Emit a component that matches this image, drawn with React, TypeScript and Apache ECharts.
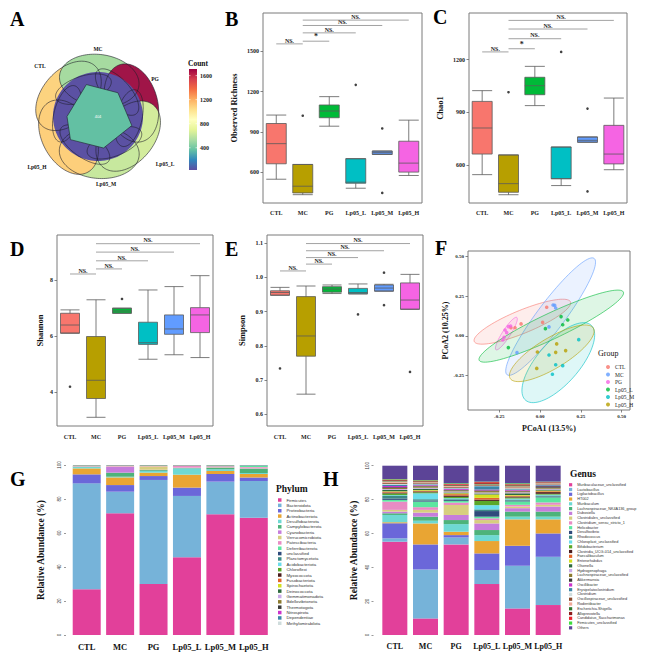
import React, { useEffect, useRef } from "react";
import * as echarts from "echarts";

const SERIF = "Liberation Serif";
const SANS = "Liberation Sans";

// ---------- shared ----------
const groups = ["CTL", "MC", "PG", "Lp05_L", "Lp05_M", "Lp05_H"];
const boxColors = ["#F8766D", "#B79F00", "#00BA38", "#00BFC4", "#619CFF", "#F564E3"];
const sigPairs = [[0, 1], [1, 2], [1, 3], [1, 4], [1, 5]];
const sigLabelsBC = ["NS.", "*", "NS.", "NS.", "NS."];
const sigLabelsDE = ["NS.", "NS.", "NS.", "NS.", "NS."];

// ---------- B: Observed richness [min, Q1, median, Q3, max] ----------
const richnessStats = [
  [547, 662, 812, 962, 1025],
  [432, 445, 495, 657, 657],
  [942, 1005, 1055, 1100, 1162],
  [480, 517, 525, 700, 700],
  [732, 732, 745, 757, 757],
  [575, 600, 667, 830, 987],
];
const richnessOutliers = [[1, 1020], [3, 1250], [4, 925], [4, 445]];
const richnessSigY = [1555, 1575, 1637, 1692, 1732];
const richnessTicks = [600, 900, 1200, 1500];

// ---------- C: Chao1 ----------
const chaoStats = [
  [547, 664, 812, 963, 1024],
  [433, 447, 496, 659, 659],
  [939, 1001, 1052, 1100, 1162],
  [485, 524, 524, 704, 704],
  [731, 731, 742, 761, 761],
  [575, 608, 664, 827, 982],
];
const chaoOutliers = [[1, 1015], [3, 1244], [4, 922], [4, 452]];
const chaoSigY = [1244, 1262, 1319, 1374, 1423];
const chaoTicks = [600, 900, 1200];

// ---------- D: Shannon ----------
const shannonStats = [
  [6.1, 6.1, 6.39, 6.81, 6.93],
  [3.1, 3.77, 4.42, 5.98, 7.29],
  [6.81, 6.81, 6.89, 6.99, 6.99],
  [5.17, 5.7, 5.76, 6.49, 7.64],
  [5.33, 6.06, 6.25, 6.75, 7.76],
  [5.23, 6.12, 6.75, 7.01, 8.15],
];
const shannonOutliers = [[0, 4.19], [2, 7.32]];
const shannonSigY = [8.21, 8.39, 8.68, 8.99, 9.29];
const shannonTicks = [4, 6, 8];

// ---------- E: Simpson ----------
const simpsonStats = [
  [0.948, 0.948, 0.956, 0.961, 0.971],
  [0.659, 0.77, 0.829, 0.944, 0.975],
  [0.953, 0.957, 0.966, 0.973, 0.978],
  [0.952, 0.952, 0.956, 0.968, 0.981],
  [0.96, 0.96, 0.969, 0.978, 0.98],
  [0.907, 0.907, 0.934, 0.984, 1.009],
];
const simpsonOutliers = [[0, 0.734], [3, 0.892], [4, 1.014], [4, 0.919], [5, 0.724]];
const simpsonSigY = [1.019, 1.039, 1.058, 1.078, 1.099];
const simpsonTicks = [0.6, 0.7, 0.8, 0.9, 1.0, 1.1];

// ---------- F: PCoA ----------
const pcoaGroups = ["CTL", "MC", "PG", "Lp05_L", "Lp05_M", "Lp05_H"];
const pcoaColors = ["#F8766D", "#619CFF", "#F564E3", "#00BA38", "#00BFC4", "#B79F00"];
const pcoaCTL = [[0.041, 0.181], [-0.116, 0.076], [-0.153, 0.052], [-0.178, 0.052], [0.016, 0.086]];
const pcoaMC = [[0.09, 0.193], [0.096, 0.176], [0.08, 0.195], [0.055, 0.057], [-0.141, -0.105]];
const pcoaPG = [[-0.214, 0.038], [-0.204, 0.021], [-0.194, 0.059], [-0.18, 0.063], [-0.22, -0.008], [-0.228, -0.025]];
const pcoaL = [[0.129, 0.122], [0.17, 0.101], [0.139, 0.071], [0.033, 0.046], [-0.194, -0.073]];
const pcoaM = [[0.237, -0.023], [0.055, -0.12], [0.096, -0.181], [0.139, -0.187], [0.076, -0.241]];
const pcoaH = [[0.102, -0.05], [0.157, -0.092], [0.096, -0.103], [-0.016, -0.101], [-0.02, -0.204]];
// confidence ellipses: [cx, cy, semi-major, semi-minor, angle deg]
const pcoaEllipses = [
  [-0.108, 0.09, 0.32, 0.072, 23],
  [0.065, 0.122, 0.453, 0.085, 54],
  [-0.206, 0.015, 0.12, 0.025, 58],
  [0.069, 0.062, 0.491, 0.08, 26],
  [0.112, -0.168, 0.31, 0.13, 50],
  [0.072, -0.109, 0.3, 0.095, 32],
];
const pcoaTicks = [-0.25, 0, 0.25, 0.5];

// ---------- G: Phylum ----------
const phylumNames = [
  "Firmicutes", "Bacteroidota", "Proteobacteria", "Actinobacteriota", "Desulfobacterota",
  "Campylobacterota", "Cyanobacteria", "Verrucomicrobiota", "Patescibacteria", "Deferribacterota",
  "unclassified", "Planctomycetota", "Acidobacteriota", "Chloroflexi", "Myxococcota",
  "Fusobacteriota", "Spirochaetota", "Deinococcota", "Gemmatimonadota", "Bdellovibrionota",
  "Thermotogota", "Nitrospirota", "Dependentiae", "Methylomirabilota",
];
const palette = [
  "#E2409A", "#76B3D9", "#6B67D9", "#E9A533", "#6ED9D3", "#4DB37A", "#C67DDC", "#D7CE7F",
  "#E88BC4", "#5CE6A0", "#2F4B7C", "#3C8A86", "#6BDDEB", "#5BA829", "#4B1C1C", "#E4652A",
  "#D4E021", "#2F6B3F", "#C9AAE8", "#8C7B2E", "#3A3A3A", "#CC33CC", "#3C86A8", "#CFDCDC",
  "#8B4A2B", "#F0A898", "#2E7A2E", "#8E1B1B", "#E8262E", "#3DDC3D", "#5C4497",
];
const phylumValues = [
  [26.9, 71.6, 30.0, 45.7, 71.0, 69.0],
  [62.3, 12.7, 61.2, 36.1, 19.2, 21.6],
  [5.3, 3.9, 2.3, 4.9, 4.5, 2.1],
  [3.5, 4.5, 2.0, 7.6, 1.8, 2.0],
  [0.8, 0.4, 1.0, 3.7, 1.0, 0.6],
  [0.2, 2.4, 0.5, 0.2, 0.9, 2.5],
  [0.1, 3.5, 0.2, 0.2, 0.2, 0.3],
  [0.1, 0.2, 2.0, 0.1, 0.2, 0.3],
  [0.2, 0.3, 0.2, 1.1, 0.5, 0.4],
  [0.1, 0.1, 0.2, 0.1, 0.3, 0.6],
  [0.1, 0.1, 0.1, 0.1, 0.1, 0.15],
  [0.05, 0.05, 0.05, 0.03, 0.05, 0.05],
  [0.05, 0.04, 0.04, 0.03, 0.05, 0.05],
  [0.04, 0.03, 0.04, 0.02, 0.04, 0.04],
  [0.03, 0.03, 0.03, 0.02, 0.03, 0.03],
  [0.03, 0.02, 0.02, 0.02, 0.02, 0.03],
  [0.03, 0.02, 0.02, 0.02, 0.02, 0.02],
  [0.02, 0.02, 0.02, 0.02, 0.02, 0.02],
  [0.02, 0.02, 0.02, 0.02, 0.02, 0.02],
  [0.02, 0.02, 0.02, 0.02, 0.02, 0.02],
  [0.02, 0.02, 0.02, 0.02, 0.02, 0.02],
  [0.02, 0.02, 0.02, 0.02, 0.02, 0.02],
  [0.02, 0.02, 0.02, 0.02, 0.02, 0.02],
  [0.03, 0.03, 0.03, 0.03, 0.03, 0.03],
];

// ---------- H: Genus ----------
const genusNames = [
  "Muribaculaceae_unclassified", "Lactobacillus", "Ligilactobacillus", "HT002", "Muribaculum",
  "Lachnospiraceae_NK4A136_group", "Dubosiella", "Clostridiales_unclassified", "Clostridium_sensu_stricto_1",
  "Helicobacter", "Desulfovibrio", "Rhodococcus", "Chloroplast_unclassified", "Bifidobacterium",
  "Clostridia_UCG-014_unclassified", "Faecalibaculum", "Enterorhabdus", "Olsenella", "Hydrogenophaga",
  "Lachnospiraceae_unclassified", "Akkermansia", "Oscillibacter", "Erysipelatoclostridium", "Clostridium",
  "Oscillospiraceae_unclassified", "Rodentibacter", "Escherichia-Shigella", "Alloprevotella",
  "Candidatus_Saccharimonas", "Firmicutes_unclassified", "Others",
];
const genusValues = [
  [55.1, 9.8, 53.5, 30.1, 15.7, 17.7],
  [2.0, 28.9, 4.1, 8.3, 25.2, 28.5],
  [8.9, 14.8, 1.4, 9.8, 11.8, 13.8],
  [0.6, 12.4, 2.0, 7.3, 15.6, 8.3],
  [4.3, 1.6, 4.5, 3.5, 1.6, 1.6],
  [1.0, 2.4, 2.4, 3.0, 3.0, 3.0],
  [1.0, 2.4, 3.0, 3.9, 2.0, 3.0],
  [1.0, 1.6, 5.9, 2.0, 1.0, 1.0],
  [4.9, 1.6, 1.4, 1.0, 1.0, 1.4],
  [1.0, 3.3, 1.0, 1.0, 2.0, 3.0],
  [0.8, 0.6, 0.5, 3.3, 0.5, 0.5],
  [1.5, 0.8, 0.5, 1.0, 0.6, 0.6],
  [0.5, 3.5, 0.6, 2.5, 0.6, 0.5],
  [1.0, 0.6, 0.8, 2.5, 0.6, 0.5],
  [0.5, 0.5, 0.8, 0.8, 0.6, 1.0],
  [0.5, 0.4, 0.8, 1.0, 0.5, 0.5],
  [0.3, 0.4, 0.5, 2.0, 0.4, 0.4],
  [0.8, 0.8, 0.5, 0.6, 1.0, 0.6],
  [0.5, 0.6, 0.6, 0.6, 0.6, 0.5],
  [0.6, 0.8, 0.6, 0.8, 0.6, 0.6],
  [0.5, 0.3, 0.3, 0.4, 0.3, 0.9],
  [0.7, 0.4, 0.5, 0.5, 0.4, 0.3],
  [0.8, 0.5, 0.4, 2.0, 0.5, 0.4],
  [0.5, 0.4, 0.4, 0.3, 0.6, 0.3],
  [0.6, 0.5, 0.5, 0.4, 0.5, 0.5],
  [0.8, 0.4, 0.5, 0.3, 0.6, 0.3],
  [0.4, 0.3, 0.4, 0.3, 0.5, 0.3],
  [0.4, 0.3, 0.4, 0.5, 0.4, 0.2],
  [0.3, 0.3, 0.4, 0.6, 0.4, 0.2],
  [0.3, 0.3, 0.4, 0.3, 0.5, 0.2],
  [7.9, 8.5, 10.4, 9.4, 10.4, 9.4],
];

// ---------- A: Venn ----------
const vennSets = ["CTL", "MC", "PG", "Lp05_L", "Lp05_M", "Lp05_H"];
const vennSetColors = ["#FCD37F", "#A6DBA0", "#A01548", "#D3EC9C", "#C7E89E", "#FDCF7B"];
const vennCenterCount = "404";
const countTicks = [400, 800, 1200, 1600];
const countRange = [30, 1710];
const countColors = ["#9E0142", "#D53E4F", "#F46D43", "#FDAE61", "#FEE08B", "#FFFFBF", "#E6F598", "#ABDDA4", "#66C2A5", "#3288BD", "#5E4FA2"];

// ---------- layout ----------
const gridB = { left: 263, top: 13, width: 159, height: 190 };
const gridC = { left: 469, top: 13, width: 158, height: 190 };
const gridD = { left: 57, top: 235, width: 156, height: 191 };
const gridE = { left: 267, top: 235, width: 156, height: 191 };
const gridF = { left: 468, top: 251, width: 162, height: 159 };
const gridG = { left: 70, top: 465, width: 200.5, height: 170 };
const gridH = { left: 379.5, top: 465.7, width: 184, height: 169.3 };

const frame = { show: true, borderColor: "#7a7a7a", borderWidth: 1, backgroundColor: "transparent" };

function boxAxes(gi: number, min: number, max: number, ticks: number[], name: string, nameGap: number, fmt: (v: number) => string, labMargin: number) {
  const x = {
    type: "category", gridIndex: gi, data: groups,
    axisLine: { show: false, onZero: false },
    axisTick: { alignWithLabel: true, length: 2.5, lineStyle: { color: "#666", width: 0.8 } },
    axisLabel: { interval: 0, fontFamily: SERIF, fontWeight: "bold", fontSize: 6, color: "#222", margin: labMargin },
  };
  const y = {
    type: "value", gridIndex: gi, min, max,
    axisLine: { show: false, onZero: false },
    splitLine: { show: false },
    axisTick: { show: true, length: 2.5, customValues: ticks, lineStyle: { color: "#666", width: 0.8 } },
    axisLabel: { customValues: ticks, formatter: fmt, fontFamily: SERIF, fontWeight: "bold", fontSize: 6, color: "#222", margin: 4 },
    name, nameLocation: "middle", nameGap,
    nameTextStyle: { fontFamily: SERIF, fontWeight: "bold", fontSize: 8.5, color: "#111" },
  };
  return { x, y };
}

function boxSeries(ai: number, stats: number[][], outliers: number[][], sigY: number[], sigLabels: string[], boxW: number) {
  return [
    {
      type: "boxplot", xAxisIndex: ai, yAxisIndex: ai, boxWidth: [boxW, boxW],
      data: stats.map((s, i) => ({ value: s, itemStyle: { color: boxColors[i], borderColor: "#5a5a5a", borderWidth: 0.8 } })),
      silent: true,
    },
    {
      type: "scatter", xAxisIndex: ai, yAxisIndex: ai, symbolSize: 2.6,
      itemStyle: { color: "#111" }, data: outliers, silent: true, z: 4,
    },
    {
      type: "custom", xAxisIndex: ai, yAxisIndex: ai, silent: true, z: 5,
      data: sigPairs.map((p, i) => [p[0], p[1], sigY[i]]),
      encode: { x: [0, 1], y: 2 },
      renderItem: (params: any, api: any) => {
        const p1 = api.coord([api.value(0), api.value(2)]);
        const p2 = api.coord([api.value(1), api.value(2)]);
        const lab = sigLabels[params.dataIndex];
        return {
          type: "group",
          children: [
            { type: "line", shape: { x1: p1[0], y1: p1[1], x2: p2[0], y2: p2[1] }, style: { stroke: "#8c8c8c", lineWidth: 0.8 } },
            {
              type: "text", x: (p1[0] + p2[0]) / 2, y: p1[1] - 0.3,
              style: { text: lab, fontFamily: SERIF, fontWeight: "bold", fontSize: lab === "*" ? 8 : 6, fill: "#222", align: "center", verticalAlign: "bottom" },
            },
          ],
        };
      },
    },
  ];
}

function ellipsePts(cx: number, cy: number, ra: number, rb: number, rotDeg: number, n = 120) {
  // ra along direction rotDeg (screen, counter-clockwise), rb perpendicular
  const p = (rotDeg * Math.PI) / 180;
  const ux = Math.cos(p), uy = -Math.sin(p);
  const vx = Math.sin(p), vy = Math.cos(p);
  const pts: number[][] = [];
  for (let k = 0; k < n; k++) {
    const t = (k / n) * Math.PI * 2;
    pts.push([cx + ra * Math.cos(t) * ux + rb * Math.sin(t) * vx, cy + ra * Math.cos(t) * uy + rb * Math.sin(t) * vy]);
  }
  return pts;
}

function buildVenn(): any[] {
  const C = [98, 116.5];
  const angles = [145, 88, 22, -33, -88, -145];
  const els: any[] = [];
  const outer = angles.map((deg) => {
    const p = (deg * Math.PI) / 180;
    const d = 36;
    return ellipsePts(C[0] + d * Math.cos(p), C[1] - d * Math.sin(p), 26, 40, deg - 6);
  });
  const inner = angles.map((deg) => {
    const p = ((deg + 30) * Math.PI) / 180;
    const d = 31;
    return ellipsePts(C[0] + d * Math.cos(p), C[1] - d * Math.sin(p), 13, 29, deg + 30 - 10);
  });
  outer.forEach((pts, i) => {
    els.push({ type: "polygon", shape: { points: pts }, style: { fill: vennSetColors[i], stroke: "none" }, silent: true });
  });
  // overlap region
  els.push({ type: "polygon", shape: { points: ellipsePts(C[0], C[1], 45, 44.5, 0) }, style: { fill: "#5B51A3", stroke: "none" }, silent: true });
  outer.forEach((pts) => {
    els.push({ type: "polygon", shape: { points: pts }, style: { fill: "none", stroke: "#1e1e2a", lineWidth: 0.6 }, silent: true });
  });
  inner.forEach((pts) => {
    els.push({ type: "polygon", shape: { points: pts }, style: { fill: "none", stroke: "#1e1e2a", lineWidth: 0.6 }, silent: true });
  });
  // all-sets centre
  const centre = [110, 50, -15, -80, -140, 180].map((deg, i) => {
    const p = (deg * Math.PI) / 180;
    const r = [34, 31, 35, 32, 36, 31][i];
    return [C[0] + r * Math.cos(p), C[1] - r * Math.sin(p)];
  });
  els.push({ type: "polygon", shape: { points: centre }, style: { fill: "#63C0A3", stroke: "#1e1e2a", lineWidth: 0.6 }, silent: true });
  els.push({ type: "text", x: C[0], y: C[1], style: { text: vennCenterCount, fill: "#ffffff", fontFamily: SANS, fontSize: 4, align: "center", verticalAlign: "middle" } });
  const labelPos = [[40, 66], [98, 49], [155, 79], [165, 164], [106, 184], [37, 167]];
  vennSets.forEach((s, i) => {
    els.push({ type: "text", x: labelPos[i][0], y: labelPos[i][1], style: { text: s, fill: "#111", fontFamily: SERIF, fontWeight: "bold", fontSize: 5.5, align: "center", verticalAlign: "middle" } });
  });
  // colorbar
  const cbX = 189, cbTop = 69, cbH = 101, cbW = 8;
  els.push({
    type: "rect", shape: { x: cbX, y: cbTop, width: cbW, height: cbH },
    style: { fill: { type: "linear", x: 0, y: 0, x2: 0, y2: 1, colorStops: countColors.map((c, i) => ({ offset: i / (countColors.length - 1), color: c })) } },
    silent: true,
  });
  countTicks.forEach((v) => {
    const y = cbTop + cbH - ((v - countRange[0]) / (countRange[1] - countRange[0])) * cbH;
    els.push({ type: "line", shape: { x1: cbX, y1: y, x2: cbX + 1.5, y2: y }, style: { stroke: "#fff", lineWidth: 0.6 } });
    els.push({ type: "line", shape: { x1: cbX + cbW - 1.5, y1: y, x2: cbX + cbW, y2: y }, style: { stroke: "#fff", lineWidth: 0.6 } });
    els.push({ type: "text", x: cbX + cbW + 3, y, style: { text: String(v), fill: "#222", fontFamily: SERIF, fontWeight: "bold", fontSize: 6, align: "left", verticalAlign: "middle" } });
  });
  els.push({ type: "text", x: 188, y: 63, style: { text: "Count", fill: "#111", fontFamily: SERIF, fontWeight: "bold", fontSize: 7.5, align: "left", verticalAlign: "middle" } });
  return els;
}

function buildOption() {
  const b = boxAxes(0, 370, 1785, richnessTicks, "Observed Richness", 25, (v) => String(v), 7);
  const c = boxAxes(1, 386, 1465, chaoTicks, "Chao1", 25, (v) => String(v), 7);
  const d = boxAxes(2, 2.79, 9.6, shannonTicks, "Shannon", 13, (v) => String(v), 8);
  const e = boxAxes(3, 0.566, 1.124, simpsonTicks, "Simpson", 21, (v) => v.toFixed(1), 8);

  const fX = {
    type: "value", gridIndex: 4, min: -0.441, max: 0.551, position: "bottom",
    axisLine: { show: false, onZero: false }, splitLine: { show: false },
    axisTick: { customValues: pcoaTicks, length: 2.5, lineStyle: { color: "#666", width: 0.8 } },
    axisLabel: { customValues: pcoaTicks, formatter: (v: number) => v.toFixed(2), fontFamily: SERIF, fontWeight: "bold", fontSize: 5, color: "#222", margin: 4 },
    name: "PCoA1 (13.5%)", nameLocation: "middle", nameGap: 14,
    nameTextStyle: { fontFamily: SERIF, fontWeight: "bold", fontSize: 8, color: "#111" },
  };
  const fY = {
    type: "value", gridIndex: 4, min: -0.466, max: 0.535, position: "left",
    axisLine: { show: false, onZero: false }, splitLine: { show: false },
    axisTick: { customValues: pcoaTicks, length: 2.5, lineStyle: { color: "#666", width: 0.8 } },
    axisLabel: { customValues: pcoaTicks, formatter: (v: number) => v.toFixed(2), fontFamily: SERIF, fontWeight: "bold", fontSize: 5, color: "#222", margin: 4 },
    name: "PCoA2 (10.25%)", nameLocation: "middle", nameGap: 17,
    nameTextStyle: { fontFamily: SERIF, fontWeight: "bold", fontSize: 8, color: "#111" },
  };

  const barX = (gi: number, fs: number) => ({
    type: "category", gridIndex: gi, data: groups,
    axisLine: { show: false, onZero: false }, axisTick: { show: false },
    axisLabel: { interval: 0, fontFamily: SERIF, fontWeight: "bold", fontSize: fs, color: "#111", margin: 7 },
  });
  const barY = (gi: number, offset: number, nameGap: number) => ({
    type: "value", gridIndex: gi, min: 0, max: 100, interval: 20, offset,
    axisLine: { show: false, onZero: false }, splitLine: { show: false },
    axisTick: { show: true, length: 2, lineStyle: { color: "#555", width: 0.6 } },
    axisLabel: { rotate: 90, fontFamily: SANS, fontSize: 4.5, color: "#333", margin: 4 },
    name: "Relative Abundance (%)", nameLocation: "middle", nameGap,
    nameTextStyle: { fontFamily: SERIF, fontWeight: "bold", fontSize: 9.5, color: "#111" },
  });

  const pcoaData = [pcoaCTL, pcoaMC, pcoaPG, pcoaL, pcoaM, pcoaH];

  const series: any[] = [
    ...boxSeries(0, richnessStats, richnessOutliers, richnessSigY, sigLabelsBC, 20),
    ...boxSeries(1, chaoStats, chaoOutliers, chaoSigY, sigLabelsBC, 20),
    ...boxSeries(2, shannonStats, shannonOutliers, shannonSigY, sigLabelsDE, 19),
    ...boxSeries(3, simpsonStats, simpsonOutliers, simpsonSigY, sigLabelsDE, 19),
    {
      type: "custom", name: "ellipses", xAxisIndex: 4, yAxisIndex: 4, silent: true, z: 1,
      data: pcoaEllipses.map((p) => [p[0], p[1]]),
      encode: { x: 0, y: 1 },
      renderItem: (params: any, api: any) => {
        const [cx, cy, ra, rb, ang] = pcoaEllipses[params.dataIndex];
        const t0 = (ang * Math.PI) / 180;
        const pts: number[][] = [];
        for (let k = 0; k < 90; k++) {
          const t = (k / 90) * Math.PI * 2;
          const px = ra * Math.cos(t), py = rb * Math.sin(t);
          pts.push(api.coord([cx + px * Math.cos(t0) - py * Math.sin(t0), cy + px * Math.sin(t0) + py * Math.cos(t0)]));
        }
        const col = pcoaColors[params.dataIndex];
        return { type: "polygon", shape: { points: pts }, style: { fill: col, fillOpacity: 0.13, stroke: col, strokeOpacity: 0.75, lineWidth: 0.8 } as any };
      },
    },
    ...pcoaGroups.map((g, i) => ({
      type: "scatter", name: g, xAxisIndex: 4, yAxisIndex: 4, symbolSize: 3.6, z: 3,
      itemStyle: { color: pcoaColors[i] }, data: pcoaData[i],
    })),
    ...phylumNames.map((n, i) => ({
      type: "bar", name: n, xAxisIndex: 5, yAxisIndex: 5, stack: "phylum", barWidth: 28,
      itemStyle: { color: palette[i] }, data: phylumValues[i], silent: true,
    })),
    ...genusNames.map((n, i) => ({
      type: "bar", name: n, xAxisIndex: 6, yAxisIndex: 6, stack: "genus", barWidth: 25,
      itemStyle: { color: palette[i] }, data: genusValues[i], silent: true,
    })),
  ];

  const letters = [["A", 10, 19], ["B", 225, 18.5], ["C", 433, 16.5], ["D", 10, 248.5], ["E", 225, 248.5], ["F", 435, 247.5], ["G", 10, 478.5], ["H", 323, 478.5]];

  const graphic: any[] = [
    ...buildVenn(),
    ...letters.map(([t, x, y]) => ({ type: "text", x, y, style: { text: t, fill: "#000", fontFamily: SERIF, fontWeight: "bold", fontSize: 20, align: "left", verticalAlign: "middle" } })),
    { type: "text", x: 598, y: 353, style: { text: "Group", fill: "#111", fontFamily: SERIF, fontSize: 8, align: "left", verticalAlign: "middle" } },
    { type: "text", x: 276, y: 489, style: { text: "Phylum", fill: "#111", fontFamily: SERIF, fontWeight: "bold", fontSize: 9.5, align: "left", verticalAlign: "middle" } },
    { type: "text", x: 570, y: 474, style: { text: "Genus", fill: "#111", fontFamily: SERIF, fontWeight: "bold", fontSize: 9.5, align: "left", verticalAlign: "middle" } },
  ];

  return {
    animation: false,
    backgroundColor: "#ffffff",
    grid: [
      { ...gridB, ...frame }, { ...gridC, ...frame }, { ...gridD, ...frame }, { ...gridE, ...frame },
      { ...gridF, ...frame }, { ...gridG, show: false }, { ...gridH, show: false },
    ],
    xAxis: [b.x, c.x, d.x, e.x, fX, barX(5, 8.5), barX(6, 8)],
    yAxis: [b.y, c.y, d.y, e.y, fY, barY(5, 4, 20), barY(6, 6, 15)],
    legend: [
      {
        data: pcoaGroups, orient: "vertical", left: 601, top: 359, icon: "circle", itemWidth: 4, itemHeight: 4, itemGap: 1.5,
        textStyle: { fontFamily: SERIF, fontSize: 5.5, color: "#222", lineHeight: 6 }, selectedMode: false,
      },
      {
        data: phylumNames, orient: "vertical", left: 278, top: 497.5, icon: "rect", itemWidth: 3.5, itemHeight: 3.5, itemGap: 0.36,
        textStyle: { fontFamily: SANS, fontSize: 4.3, color: "#333", lineHeight: 5 }, selectedMode: false, padding: 0,
      },
      {
        data: genusNames, orient: "vertical", left: 569, top: 482.5, icon: "rect", itemWidth: 3.2, itemHeight: 3.2, itemGap: 0.27,
        textStyle: { fontFamily: SANS, fontSize: 3.8, color: "#333", lineHeight: 4.5 }, selectedMode: false, padding: 0,
      },
    ],
    graphic,
    series,
  };
}

export default function App() {
  const ref = useRef<HTMLDivElement>(null);
  useEffect(() => {
    document.body.style.margin = "0";
    const chart = echarts.init(ref.current!, null, { renderer: "svg" });
    chart.setOption(buildOption() as any);
    return () => chart.dispose();
  }, []);
  return <div ref={ref} style={{ width: 650, height: 657 }} />;
}
